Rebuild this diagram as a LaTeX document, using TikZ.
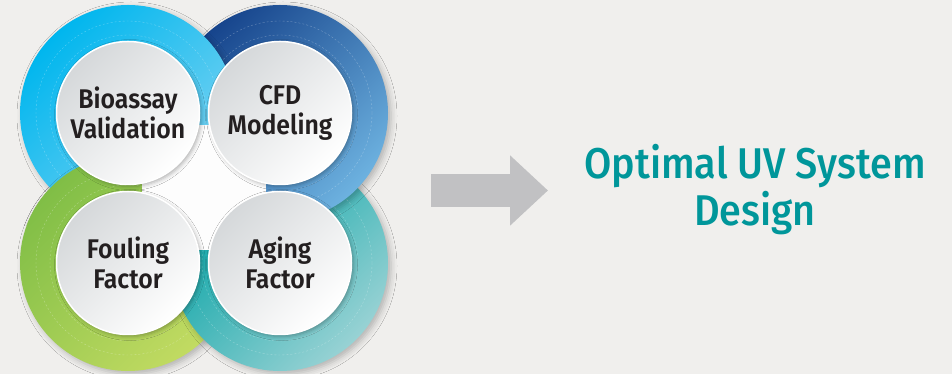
\documentclass[tikz,border=0pt]{standalone}
\usepackage{fontspec}
\setmainfont{Fira Sans}
\newfontfamily\labelfont[FakeStretch=0.92]{Fira Sans SemiBold}
\newfontfamily\titlefont[FakeStretch=0.92]{Fira Sans Medium}
\usetikzlibrary{arrows.meta,shadows.blur,positioning}
\definecolor{bgcol}{HTML}{F0EFED}
\definecolor{cyanA}{HTML}{00B6EE}
\definecolor{cyanB}{HTML}{80D4F2}
\definecolor{blueA}{HTML}{16448C}
\definecolor{blueB}{HTML}{6DB2E0}
\definecolor{greenA}{HTML}{80BE46}
\definecolor{greenB}{HTML}{C2DB62}
\definecolor{tealA}{HTML}{00A1A3}
\definecolor{tealB}{HTML}{98D2D4}
\definecolor{discA}{HTML}{D5D8DA}
\definecolor{textcol}{HTML}{231F20}
\definecolor{titlecol}{HTML}{00969A}
\definecolor{arrowcol}{HTML}{C1C1C3}
\tikzset{
  every picture/.style = {
    x = 1pt,
    y = 1pt,
  }
  ,
  ring/.style 2 args = {
    top color = #1,
    bottom color = #2,
    shading angle = 45,
    blur shadow = {shadow xshift=3pt, shadow yshift=-3pt,
      shadow blur radius=6pt, shadow opacity=25}
  }
  , % thin dashed circles inside the rings
  guide/.style = {
    draw = white,
    opacity = 0.3,
    line width = 0.4pt,
    dash pattern = on 2pt off 2pt
  }
  ,
  disc/.style = {
    circle,
    minimum size = 143pt,
    inner sep = 0pt,
    top color = discA,
    bottom color = white,
    shading angle = 45,
    draw = white,
    line width = 1.5pt,
    blur shadow = {shadow xshift=2pt, shadow yshift=-2pt,
      shadow blur radius=4pt, shadow opacity=30},
    align = center,
    text = textcol,
    font = \labelfont\fontsize{27}{30}\selectfont
  }
  ,
  bigarrow/.style = {
    draw = arrowcol,
    line width = 33pt,
    -{Triangle[length=38pt, width=68pt]}
  }
  ,
  heading/.style = {
    align = center,
    text = titlecol,
    font = \titlefont\fontsize{43}{47}\selectfont
  }
}
\begin{document}
\begin{tikzpicture}
  \useasboundingbox (0,0) rectangle (952,374);
  \fill[bgcol] (0,0) rectangle (952,374);
  \coordinate (c-bio) at (128,261);
  \coordinate (c-cfd) at (280,261);
  \coordinate (c-foul) at (128,111);
  \coordinate (c-age) at (280,111);
  % rings: green under teal under blue under cyan
  \path[ring={greenA}{greenB}] (c-foul) circle (108);
  \draw[guide] (c-foul) circle (78) (c-foul) circle (92);
  \path[ring={tealA}{tealB}] (c-age) circle (108);
  \draw[guide] (c-age) circle (78) (c-age) circle (92);
  \path[ring={blueA}{blueB}] (c-cfd) circle (108);
  \draw[guide] (c-cfd) circle (78) (c-cfd) circle (92);
  \path[ring={cyanA}{cyanB}] (c-bio) circle (108);
  \draw[guide] (c-bio) circle (78) (c-bio) circle (92);
  % green goes back over cyan on the left
  \begin{scope}
    \clip (0,148) rectangle (178,224);
    \path[ring={greenA}{greenB}] (c-foul) circle (108);
    \draw[guide] (c-foul) circle (78) (c-foul) circle (92);
  \end{scope}
  \fill[white!96!discA] (142,124) rectangle (266,249);
  \node[disc] (bioassay) at (c-bio) {Bioassay\\Validation};
  \node[disc] (cfd) at (c-cfd) {CFD\\Modeling};
  \node[disc] (fouling) at (c-foul) {Fouling\\Factor};
  \node[disc] (aging) at (c-age) {Aging\\Factor};
  \coordinate (arrow-from) at (431,183.5);
  \coordinate (arrow-to) at (548,183.5);
  \draw[bigarrow] (arrow-from) -- (arrow-to);
  \node[heading] (design) at (755,184) {Optimal UV System\\Design};
\end{tikzpicture}
\end{document}
